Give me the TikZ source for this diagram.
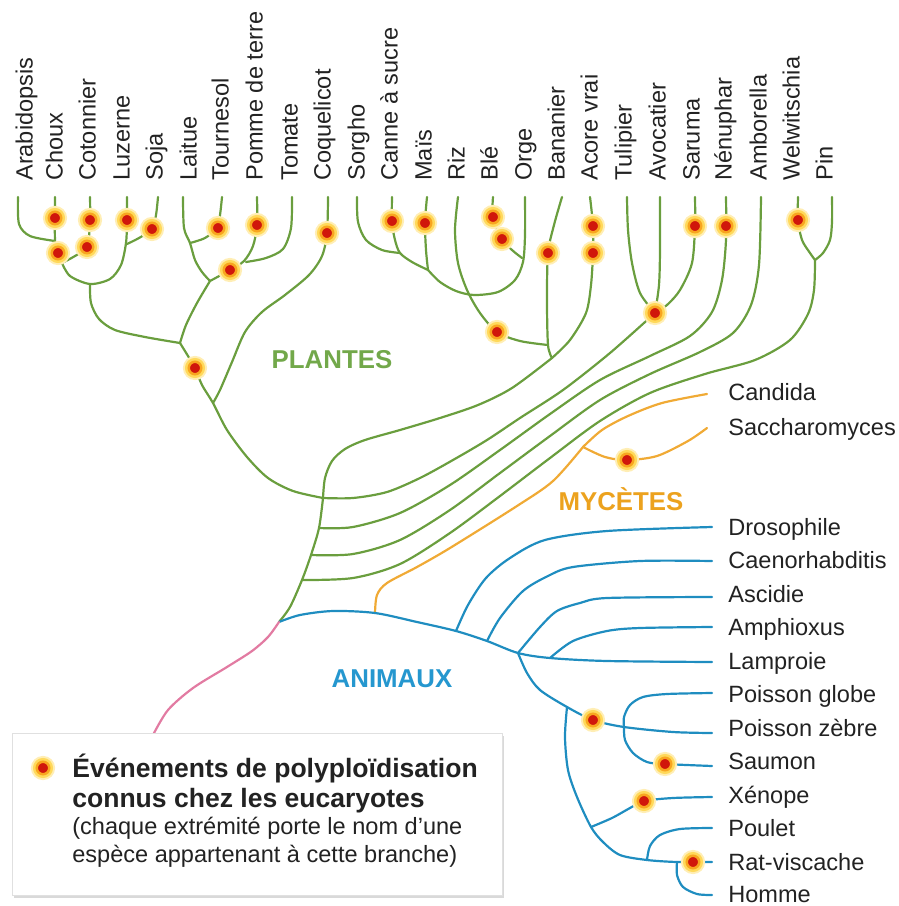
\documentclass[tikz,border=0pt]{standalone}
\usepackage{fontspec}
\setmainfont{Liberation Sans}
\usetikzlibrary{shadows}

\definecolor{plantgreen}{HTML}{6A9E3E}
\definecolor{planttext}{HTML}{72A84A}
\definecolor{fungiorange}{HTML}{F0AA35}
\definecolor{fungitext}{HTML}{ECA21E}
\definecolor{animalblue}{HTML}{1F8DC0}
\definecolor{animaltext}{HTML}{2597CF}
\definecolor{rootpink}{HTML}{E27BA2}
\definecolor{labelgray}{HTML}{222222}
\definecolor{wgdred}{HTML}{D0170B}
\definecolor{wgdorange}{HTML}{F8A51F}
\definecolor{wgdyellow}{HTML}{FFD95A}

\newcommand{\taxonfont}{\fontsize{13.4pt}{15pt}\selectfont}
\newcommand{\cladefont}{\bfseries\fontsize{14.7pt}{17pt}\selectfont}
\newcommand{\legendfont}{\bfseries\fontsize{15.1pt}{17pt}\selectfont}

\tikzset{
  branch/.style={line width=1.25pt, line cap=round, line join=round},
  plante/.style={branch, plantgreen},
  mycete/.style={branch, fungiorange},
  animal/.style={branch, animalblue},
  racine/.style={branch, rootpink},
  wgd/.style={circle, inner sep=0pt, minimum size=0.25cm, fill=wgdred,
    draw=wgdorange, line width=0.05cm,
    preaction={draw=wgdyellow!45, line width=0.23cm},
    preaction={draw=wgdyellow, line width=0.15cm}},
  toplabel/.style={rotate=90, anchor=mid west, inner sep=0pt, font=\taxonfont, text=labelgray},
  sidelabel/.style={anchor=base west, inner sep=0pt, font=\taxonfont, text=labelgray},
  legendbox/.style={draw=black!12, fill=white, inner sep=0pt,
    minimum width=9.8cm, minimum height=3.24cm,
    drop shadow={shadow xshift=1.2pt, shadow yshift=-1.8pt, opacity=0.3}},
}

\begin{document}
\begin{tikzpicture}[x=0.02cm, y=-0.02cm]
	\useasboundingbox (0,0) rectangle (899,906);

	% junctions
	\coordinate (root) at (279,622);
	\coordinate (angio) at (323,498);
	\coordinate (nymJ) at (319,528);
	\coordinate (amboJ) at (311,555);
	\coordinate (gymJ) at (302,580);
	\coordinate (eudiJ) at (213,403);
	\coordinate (monoJ) at (552,358);
	\coordinate (magJ) at (655,313);
	\coordinate (pinJ) at (815,260);
	\coordinate (mycJ) at (375,613);
	\coordinate (yeastJ) at (583,447);
	\coordinate (chordJ) at (518,653);
	\coordinate (lampJ) at (550,658);
	\coordinate (teleJ) at (624,727);
	\coordinate (tetraJ) at (567,707);
	\coordinate (amnioJ) at (647,860);
	\coordinate (mammJ) at (677,862);

	% eudicots
	\draw[plante] plot[smooth] coordinates {(18,197) (19,224) (30,236) (55,241)};
	\draw[plante] plot[smooth] coordinates {(55,197) (55,240) (58,253) (62,263)};
	\draw[plante] plot[smooth] coordinates {(90,197) (90,222) (87,247) (75,256) (62,263)};
	\draw[plante] plot[smooth] coordinates {(62,263) (70,276) (90,284) (110,279) (121,265) (126,243) (127,220) (127,197)};
	\draw[plante] plot[smooth] coordinates {(158,197) (156,215) (152,229) (139,238) (127,244)};
	\draw[plante] plot[smooth] coordinates {(90,284) (91,303) (99,319) (115,330) (145,337) (180,343)};
	\draw[plante] plot[smooth] coordinates {(183,197) (184,228) (190,243) (195,260) (202,272) (210,281)};
	\draw[plante] plot[smooth] coordinates {(222,197) (220,215) (217,228) (205,238) (190,243)};
	\draw[plante] plot[smooth] coordinates {(257,197) (257,225) (253,246) (244,261) (230,270) (210,281)};
	\draw[plante] plot[smooth] coordinates {(292,197) (291,228) (283,249) (266,258) (246,262)};
	\draw[plante] plot[smooth] coordinates {(210,281) (197,303) (186,325) (180,343)};
	\draw[plante] plot[smooth] coordinates {(180,343) (188,356) (195,368) (202,385) (eudiJ) (227,430) (247,457) (268,478) (293,491) (angio)};
	\draw[plante] plot[smooth] coordinates {(328,197) (327,233) (322,256) (309,275) (285,295) (262,312) (245,332) (232,362) (220,390) (eudiJ)};

	% monocots
	\draw[plante] plot[smooth] coordinates {(357,197) (358,222) (366,240) (382,250) (400,253)};
	\draw[plante] plot[smooth] coordinates {(392,197) (392,222) (395,240) (400,253) (412,262) (428,270)};
	\draw[plante] plot[smooth] coordinates {(427,197) (425,223) (426,250) (428,270)};
	\draw[plante] plot[smooth] coordinates {(428,270) (440,282) (456,291) (474,295) (498,292) (515,280) (523,262) (525,235) (525,197)};
	\draw[plante] plot[smooth] coordinates {(493,197) (493,217) (502,239) (512,250) (522,258)};
	\draw[plante] plot[smooth] coordinates {(458,197) (455,230) (458,263) (467,290) (480,313) (497,332) (520,341) (548,345)};
	\draw[plante] plot[smooth] coordinates {(562,197) (554,225) (548,253) (547,300) (548,345) (monoJ)};
	\draw[plante] plot[smooth] coordinates {(590,197) (593,226) (593,253) (591,285) (586,313) (570,340) (monoJ)};
	\draw[plante] plot[smooth] coordinates {(angio) (325,478) (332,461) (345,449) (365,440) (400,430) (440,418) (478,405) (512,388) (monoJ)};

	% magnoliids
	\draw[plante] plot[smooth] coordinates {(627,197) (628,230) (632,263) (640,293) (magJ)};
	\draw[plante] plot[smooth] coordinates {(660,197) (660,250) (659,285) (magJ)};
	\draw[plante] plot[smooth] coordinates {(695,197) (695,226) (692,263) (680,290) (667,305) (magJ)};
	\draw[plante] plot[smooth] coordinates {(angio) (353,498) (387,492) (420,478) (453,460) (487,440) (520,418) (563,390) (610,353) (magJ)};

	% Nenuphar, Amborella, gymnosperms
	\draw[plante] plot[smooth] coordinates {(nymJ) (353,527) (400,513) (450,485) (500,450) (550,414) (600,380) (650,356) (690,336) (712,312) (722,280) (726,240) (726,197)};
	\draw[plante] plot[smooth] coordinates {(amboJ) (353,554) (400,540) (450,510) (500,473) (550,436) (600,400) (650,374) (700,352) (733,333) (751,305) (759,265) (761,197)};
	\draw[plante] plot[smooth] coordinates {(gymJ) (353,578) (400,564) (450,533) (500,496) (550,458) (600,421) (650,393) (705,374) (755,360) (790,340) (808,314) (814,290) (pinJ)};
	\draw[plante] plot[smooth] coordinates {(798,197) (798,220) (802,240) (810,253) (pinJ)};
	\draw[plante] plot[smooth] coordinates {(832,197) (832,222) (830,240) (823,253) (pinJ)};
	\draw[plante] plot[smooth] coordinates {(angio) (nymJ) (amboJ) (gymJ) (290,607) (root)};

	% fungi
	\draw[mycete] plot[smooth] coordinates {(mycJ) (377,595) (387,583) (417,567) (450,548) (517,506) (553,481) (yeastJ)};
	\draw[mycete] plot[smooth] coordinates {(yeastJ) (602,430) (628,416) (662,403) (707,394)};
	\draw[mycete] plot[smooth] coordinates {(yeastJ) (605,457) (627,460) (657,456) (688,441) (707,428)};

	% animals
	\draw[animal] plot[smooth] coordinates {(root) (300,615) (333,611) (mycJ) (417,622) (456,631) (487,641) (chordJ) (lampJ) (607,661) (712,662)};
	\draw[animal] plot[smooth] coordinates {(456,631) (468,605) (486,578) (510,558) (545,540) (607,531) (712,527)};
	\draw[animal] plot[smooth] coordinates {(487,641) (500,618) (523,591) (548,576) (573,567) (640,561) (712,561)};
	\draw[animal] plot[smooth] coordinates {(chordJ) (540,627) (557,611) (580,603) (607,598) (712,597)};
	\draw[animal] plot[smooth] coordinates {(lampJ) (573,641) (607,631) (640,628) (712,627)};
	\draw[animal] plot[smooth] coordinates {(chordJ) (527,673) (540,690) (tetraJ) (593,720) (teleJ) (673,732) (712,733)};
	\draw[animal] plot[smooth] coordinates {(teleJ) (624,717) (630,705) (643,697) (667,694) (712,693)};
	\draw[animal] plot[smooth] coordinates {(teleJ) (625,740) (633,753) (647,762) (665,764) (712,766)};
	\draw[animal] plot[smooth] coordinates {(tetraJ) (565,737) (568,770) (577,797) (591,827) (603,842) (620,855) (amnioJ) (mammJ) (712,862)};
	\draw[animal] plot[smooth] coordinates {(591,827) (612,818) (630,808) (644,801) (673,798) (712,797)};
	\draw[animal] plot[smooth] coordinates {(amnioJ) (650,846) (660,835) (680,829) (712,828)};
	\draw[animal] plot[smooth] coordinates {(mammJ) (677,875) (683,887) (697,894) (712,895)};

	% root
	\draw[racine] plot[smooth] coordinates {(root) (268,637) (252,651) (227,667) (193,688) (168,710) (153,735)};

	% polyploidisation events
	\foreach \p [count=\i] in {(55,218), (58,253), (90,220), (87,247), (127,220), (152,229),
		(218,228), (257,225), (230,270), (195,368), (327,233), (392,221), (425,223),
		(493,217), (502,239), (497,332), (548,253), (593,226), (593,253), (655,313),
		(695,226), (726,226), (798,220), (627,460), (593,720), (665,764), (644,801), (693,862)}
		\node[wgd] (event\i) at \p {};

	% taxa
	\foreach \x/\nom [count=\i] in {28/Arabidopsis, 58/Choux, 91/Cotonnier, 125/Luzerne, 158/Soja,
		192/Laitue, 224/Tournesol, 258/Pomme de terre, 293/Tomate, 326/Coquelicot,
		360/Sorgho, 393/Canne à sucre, 427/Maïs, 460/Riz, 493/Blé, 527/Orge,
		560/Bananier, 593/Acore vrai, 627/Tulipier, 661/Avocatier, 695/Saruma,
		727/Nénuphar, 762/Amborella, 795/Welwitschia, 828/Pin}
		\node[toplabel] (top\i) at (\x,181) {\nom};
	\foreach \y/\nom [count=\i] in {393/Candida, 428/Saccharomyces, 528/Drosophile,
		561/Caenorhabditis, 595/Ascidie, 628/Amphioxus, 662/Lamproie, 695/Poisson globe,
		729/Poisson zèbre, 762/Saumon, 796/Xénope, 829/Poulet, 863/Rat-viscache, 895/Homme}
		\node[sidelabel] (side\i) at (728,\y+7) {\nom};

	\node[font=\cladefont, text=planttext, anchor=base] (plantes) at (332,368) {PLANTES};
	\node[font=\cladefont, text=fungitext, anchor=base] (mycetes) at (621,510) {MYCÈTES};
	\node[font=\cladefont, text=animaltext, anchor=base] (animaux) at (392,687) {ANIMAUX};

	% legend
	\node[legendbox] (legend) at (257,814) {};
	\node[wgd] (legdot) at (43,768) {};
	\node[font=\legendfont, text=labelgray, anchor=base west, inner sep=0pt] (leg1) at (72,777) {Événements de polyploïdisation};
	\node[font=\legendfont, text=labelgray, anchor=base west, inner sep=0pt] (leg2) at (72,807) {connus chez les eucaryotes};
	\node[font=\taxonfont, text=labelgray, anchor=base west, inner sep=0pt] (leg3) at (72,834) {(chaque extrémité porte le nom d’une};
	\node[font=\taxonfont, text=labelgray, anchor=base west, inner sep=0pt] (leg4) at (72,862) {espèce appartenant à cette branche)};
\end{tikzpicture}
\end{document}
